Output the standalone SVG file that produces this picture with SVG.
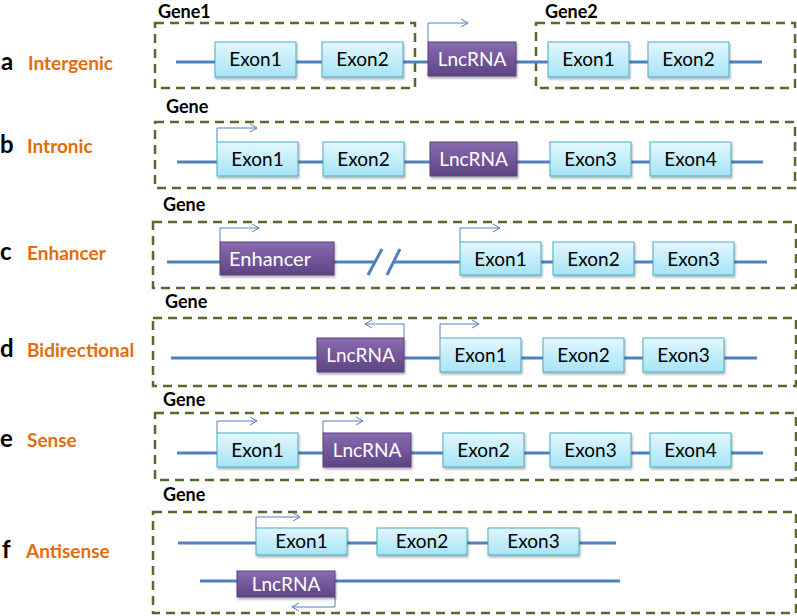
<svg xmlns="http://www.w3.org/2000/svg" width="797" height="616" viewBox="0 0 797 616">
<defs>
<linearGradient id="gExon" x1="0" y1="0" x2="0" y2="1">
<stop offset="0" stop-color="#E3F7FD"/>
<stop offset="1" stop-color="#A6E4F6"/>
</linearGradient>
<linearGradient id="gLnc" x1="0" y1="0" x2="0" y2="1">
<stop offset="0" stop-color="#8A6BB2"/>
<stop offset="1" stop-color="#5E4482"/>
</linearGradient>
<filter id="sh" x="-10%" y="-10%" width="125%" height="140%">
<feDropShadow dx="1" dy="2" stdDeviation="1.2" flood-color="#000" flood-opacity="0.3"/>
</filter>
<marker id="chev" markerUnits="userSpaceOnUse" markerWidth="10" markerHeight="10" refX="8" refY="5" orient="auto">
<path d="M1,1 L8,5 L1,9" fill="none" stroke="#4F81BD" stroke-width="1"/>
</marker>
</defs>
<style>
text{font-family:Lato,"Liberation Sans",Arial,sans-serif;}
.box{fill:none;stroke:#5A6A2C;stroke-width:2.5;stroke-dasharray:9 6;}
.dna{stroke:#4F81BD;stroke-width:3;fill:none;}
.tss{stroke:#4F81BD;stroke-width:1;fill:none;marker-end:url(#chev);}
.exon rect{fill:url(#gExon);stroke:#4BACC6;stroke-width:1;filter:url(#sh);}
.lnc rect{fill:url(#gLnc);stroke:#5B4380;stroke-width:1;filter:url(#sh);}
.exon text{font-size:19px;fill:#000;text-anchor:middle;}
.lnc text{font-size:19px;fill:#fff;text-anchor:middle;}
.gl{font-size:18px;font-weight:bold;fill:#000;}
.let{font-size:24px;font-weight:bold;fill:#000;}
.cat{font-size:19px;font-weight:bold;fill:#E46C0A;}
</style>
<rect width="797" height="616" fill="#fff"/>

<g id="labels">
<text class="let" x="1" y="70">a</text><text class="cat" x="28" y="70">Intergenic</text>
<text class="let" x="0" y="153">b</text><text class="cat" x="27" y="153">Intronic</text>
<text class="let" x="0" y="260">c</text><text class="cat" x="27" y="260">Enhancer</text>
<text class="let" x="0" y="357">d</text><text class="cat" x="27" y="357">Bidirectional</text>
<text class="let" x="0" y="447">e</text><text class="cat" x="27" y="447">Sense</text>
<text class="let" x="2" y="558">f</text><text class="cat" x="26" y="558">Antisense</text>
</g>

<g id="gene-boxes">
<rect class="box" x="155" y="23" width="260" height="65"/>
<text class="gl" x="158" y="18">Gene1</text>
<rect class="box" x="536" y="23" width="259" height="65"/>
<text class="gl" x="545" y="18">Gene2</text>
<rect class="box" x="155" y="122" width="640" height="66"/>
<text class="gl" x="166" y="113">Gene</text>
<rect class="box" x="153" y="222" width="643" height="66"/>
<text class="gl" x="163" y="211">Gene</text>
<rect class="box" x="153" y="318" width="643" height="68"/>
<text class="gl" x="165" y="308">Gene</text>
<rect class="box" x="155" y="413" width="641" height="67"/>
<text class="gl" x="163" y="406">Gene</text>
<rect class="box" x="153" y="512" width="643" height="101"/>
<text class="gl" x="163" y="501">Gene</text>
</g>

<g id="connectors">
<line class="dna" x1="176" y1="62" x2="762" y2="62"/>
<line class="dna" x1="177" y1="162" x2="763" y2="162"/>
<line class="dna" x1="167" y1="262" x2="375" y2="262"/>
<line class="dna" x1="393" y1="262" x2="767" y2="262"/>
<line class="dna" x1="368" y1="275" x2="382" y2="249" stroke-width="2.5"/>
<line class="dna" x1="387" y1="275" x2="400" y2="249" stroke-width="2.5"/>
<line class="dna" x1="171" y1="358" x2="757" y2="358"/>
<line class="dna" x1="177" y1="453" x2="763" y2="453"/>
<line class="dna" x1="178" y1="543" x2="616" y2="543"/>
<line class="dna" x1="200" y1="581" x2="620" y2="581"/>
<path class="tss" d="M428,42 V23 H468"/>
<path class="tss" d="M217,142 V128 H257"/>
<path class="tss" d="M220,242 V228 H259"/>
<path class="tss" d="M460,242 V228 H500"/>
<path class="tss" d="M404,338 V324 H365"/>
<path class="tss" d="M440,338 V324 H479"/>
<path class="tss" d="M217,433 V421 H257"/>
<path class="tss" d="M323,433 V421 H363"/>
<path class="tss" d="M256,528 V517 H300"/>
<path class="tss" d="M335,597 V607 H292"/>
</g>

<g id="a-g1-exon1" class="exon"><rect x="215" y="42" width="81" height="35"/><text x="255.5" y="66">Exon1</text></g>
<g id="a-g1-exon2" class="exon"><rect x="322" y="42" width="81" height="35"/><text x="362.5" y="66">Exon2</text></g>
<g id="a-lnc" class="lnc"><rect x="428" y="42" width="88" height="34"/><text x="472" y="66">LncRNA</text></g>
<g id="a-g2-exon1" class="exon"><rect x="548" y="42" width="81" height="35"/><text x="588.5" y="66">Exon1</text></g>
<g id="a-g2-exon2" class="exon"><rect x="648" y="42" width="81" height="35"/><text x="688.5" y="66">Exon2</text></g>

<g id="b-exon1" class="exon"><rect x="217" y="142" width="81" height="34"/><text x="257.5" y="166">Exon1</text></g>
<g id="b-exon2" class="exon"><rect x="323" y="142" width="81" height="34"/><text x="363.5" y="166">Exon2</text></g>
<g id="b-lnc" class="lnc"><rect x="430" y="142" width="87" height="34"/><text x="473.5" y="166">LncRNA</text></g>
<g id="b-exon3" class="exon"><rect x="550" y="142" width="81" height="34"/><text x="590.5" y="166">Exon3</text></g>
<g id="b-exon4" class="exon"><rect x="650" y="142" width="81" height="34"/><text x="690.5" y="166">Exon4</text></g>

<g id="c-enhancer" class="lnc"><rect x="220" y="242" width="114" height="33"/><text x="270" y="266" style="font-size:20px">Enhancer</text></g>
<g id="c-exon1" class="exon"><rect x="460" y="242" width="81" height="33"/><text x="500.5" y="265.5">Exon1</text></g>
<g id="c-exon2" class="exon"><rect x="553" y="242" width="81" height="33"/><text x="593.5" y="265.5">Exon2</text></g>
<g id="c-exon3" class="exon"><rect x="653" y="242" width="81" height="33"/><text x="693.5" y="265.5">Exon3</text></g>

<g id="d-lnc" class="lnc"><rect x="317" y="338" width="87" height="34"/><text x="360.5" y="362">LncRNA</text></g>
<g id="d-exon1" class="exon"><rect x="440" y="338" width="81" height="34"/><text x="480.5" y="362">Exon1</text></g>
<g id="d-exon2" class="exon"><rect x="543" y="338" width="81" height="34"/><text x="583.5" y="362">Exon2</text></g>
<g id="d-exon3" class="exon"><rect x="643" y="338" width="81" height="34"/><text x="683.5" y="362">Exon3</text></g>

<g id="e-exon1" class="exon"><rect x="217" y="433" width="81" height="34"/><text x="257.5" y="457">Exon1</text></g>
<g id="e-lnc" class="lnc"><rect x="323" y="433" width="88" height="34"/><text x="367" y="457">LncRNA</text></g>
<g id="e-exon2" class="exon"><rect x="443" y="433" width="81" height="34"/><text x="483.5" y="457">Exon2</text></g>
<g id="e-exon3" class="exon"><rect x="550" y="433" width="81" height="34"/><text x="590.5" y="457">Exon3</text></g>
<g id="e-exon4" class="exon"><rect x="650" y="433" width="81" height="34"/><text x="690.5" y="457">Exon4</text></g>

<g id="f-exon1" class="exon"><rect x="256" y="528" width="91" height="27"/><text x="301.5" y="548">Exon1</text></g>
<g id="f-exon2" class="exon"><rect x="377" y="528" width="90" height="27"/><text x="422" y="548">Exon2</text></g>
<g id="f-exon3" class="exon"><rect x="488" y="528" width="91" height="27"/><text x="533.5" y="548">Exon3</text></g>
<g id="f-lnc" class="lnc"><rect x="237" y="571" width="98" height="26"/><text x="286" y="591">LncRNA</text></g>
</svg>
